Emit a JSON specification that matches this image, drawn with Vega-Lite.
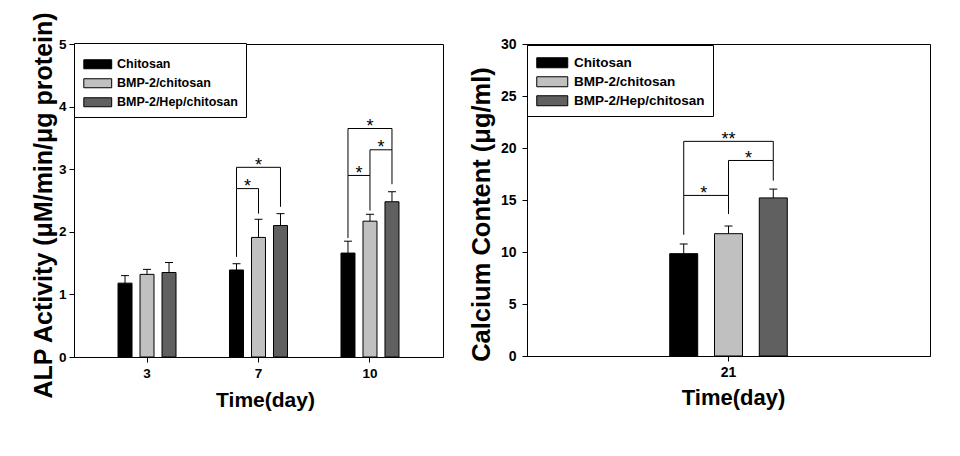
{
  "$schema": "https://vega.github.io/schema/vega-lite/v6.json",
  "padding": {"left": 30, "top": 10, "right": 0, "bottom": 0},
  "bounds": "flush",
  "spacing": 84,
  "background": "#ffffff",
  "config": {
    "font": "Liberation Sans",
    "view": {"stroke": "#000000", "strokeWidth": 1},
    "axis": {
      "domainColor": "#000000", "tickColor": "#000000", "labelColor": "#000000", "titleColor": "#000000",
      "labelFont": "Liberation Sans", "labelFontWeight": "bold", "titleFont": "Liberation Sans", "titleFontWeight": "bold",
      "grid": false, "tickSize": 5, "labelAngle": 0
    },
    "text": {"color": "#000000"}
  },
  "resolve": {"legend": {"color": "independent"}, "scale": {"xOffset": "independent"}},
  "datasets": {
    "alp": [
      {"day": "3", "group": "Chitosan", "mean": 1.18, "upper": 1.30},
      {"day": "3", "group": "BMP-2/chitosan", "mean": 1.32, "upper": 1.40},
      {"day": "3", "group": "BMP-2/Hep/chitosan", "mean": 1.35, "upper": 1.51},
      {"day": "7", "group": "Chitosan", "mean": 1.39, "upper": 1.49},
      {"day": "7", "group": "BMP-2/chitosan", "mean": 1.91, "upper": 2.20},
      {"day": "7", "group": "BMP-2/Hep/chitosan", "mean": 2.10, "upper": 2.29},
      {"day": "10", "group": "Chitosan", "mean": 1.66, "upper": 1.85},
      {"day": "10", "group": "BMP-2/chitosan", "mean": 2.17, "upper": 2.28},
      {"day": "10", "group": "BMP-2/Hep/chitosan", "mean": 2.48, "upper": 2.64}
    ],
    "alpBr": [
      {"bracket": "7a", "day": "7", "group": "Chitosan", "level": 1.60, "seq": 1},
      {"bracket": "7a", "day": "7", "group": "Chitosan", "level": 2.69, "seq": 2},
      {"bracket": "7a", "day": "7", "group": "BMP-2/chitosan", "level": 2.69, "seq": 3},
      {"bracket": "7a", "day": "7", "group": "BMP-2/chitosan", "level": 2.29, "seq": 4},
      {"bracket": "7b", "day": "7", "group": "Chitosan", "level": 2.69, "seq": 1},
      {"bracket": "7b", "day": "7", "group": "Chitosan", "level": 3.03, "seq": 2},
      {"bracket": "7b", "day": "7", "group": "BMP-2/Hep/chitosan", "level": 3.03, "seq": 3},
      {"bracket": "7b", "day": "7", "group": "BMP-2/Hep/chitosan", "level": 2.40, "seq": 4},
      {"bracket": "10a", "day": "10", "group": "Chitosan", "level": 1.90, "seq": 1},
      {"bracket": "10a", "day": "10", "group": "Chitosan", "level": 2.90, "seq": 2},
      {"bracket": "10a", "day": "10", "group": "BMP-2/chitosan", "level": 2.90, "seq": 3},
      {"bracket": "10a", "day": "10", "group": "BMP-2/chitosan", "level": 2.34, "seq": 4},
      {"bracket": "10b", "day": "10", "group": "BMP-2/chitosan", "level": 2.90, "seq": 1},
      {"bracket": "10b", "day": "10", "group": "BMP-2/chitosan", "level": 3.31, "seq": 2},
      {"bracket": "10b", "day": "10", "group": "BMP-2/Hep/chitosan", "level": 3.31, "seq": 3},
      {"bracket": "10b", "day": "10", "group": "BMP-2/Hep/chitosan", "level": 2.76, "seq": 4},
      {"bracket": "10c", "day": "10", "group": "Chitosan", "level": 2.90, "seq": 1},
      {"bracket": "10c", "day": "10", "group": "Chitosan", "level": 3.65, "seq": 2},
      {"bracket": "10c", "day": "10", "group": "BMP-2/Hep/chitosan", "level": 3.65, "seq": 3},
      {"bracket": "10c", "day": "10", "group": "BMP-2/Hep/chitosan", "level": 3.31, "seq": 4}
    ],
    "alpStar": [
      {"day": "7", "group": "Chitosan", "level": 2.69, "star": "*", "kind": "adj"},
      {"day": "7", "group": "BMP-2/chitosan", "level": 3.03, "star": "*", "kind": "wide"},
      {"day": "10", "group": "Chitosan", "level": 2.90, "star": "*", "kind": "adj"},
      {"day": "10", "group": "BMP-2/chitosan", "level": 3.31, "star": "*", "kind": "adj"},
      {"day": "10", "group": "BMP-2/chitosan", "level": 3.65, "star": "*", "kind": "wide"}
    ],
    "ca": [
      {"day": "21", "group": "Chitosan", "mean": 9.84, "upper": 10.77},
      {"day": "21", "group": "BMP-2/chitosan", "mean": 11.76, "upper": 12.5},
      {"day": "21", "group": "BMP-2/Hep/chitosan", "mean": 15.2, "upper": 16.05}
    ],
    "caBr": [
      {"bracket": "a", "day": "21", "group": "Chitosan", "level": 11.66, "seq": 1},
      {"bracket": "a", "day": "21", "group": "Chitosan", "level": 15.44, "seq": 2},
      {"bracket": "a", "day": "21", "group": "BMP-2/chitosan", "level": 15.44, "seq": 3},
      {"bracket": "a", "day": "21", "group": "BMP-2/chitosan", "level": 13.65, "seq": 4},
      {"bracket": "b", "day": "21", "group": "BMP-2/chitosan", "level": 15.44, "seq": 1},
      {"bracket": "b", "day": "21", "group": "BMP-2/chitosan", "level": 18.8, "seq": 2},
      {"bracket": "b", "day": "21", "group": "BMP-2/Hep/chitosan", "level": 18.8, "seq": 3},
      {"bracket": "b", "day": "21", "group": "BMP-2/Hep/chitosan", "level": 16.86, "seq": 4},
      {"bracket": "c", "day": "21", "group": "Chitosan", "level": 15.44, "seq": 1},
      {"bracket": "c", "day": "21", "group": "Chitosan", "level": 20.64, "seq": 2},
      {"bracket": "c", "day": "21", "group": "BMP-2/Hep/chitosan", "level": 20.64, "seq": 3},
      {"bracket": "c", "day": "21", "group": "BMP-2/Hep/chitosan", "level": 18.8, "seq": 4}
    ],
    "caStar": [
      {"day": "21", "group": "Chitosan", "level": 15.44, "star": "*", "kind": "adj"},
      {"day": "21", "group": "BMP-2/chitosan", "level": 18.8, "star": "*", "kind": "adj"},
      {"day": "21", "group": "BMP-2/chitosan", "level": 20.64, "star": "**", "kind": "wide"}
    ]
  },
  "hconcat": [
    {
      "width": 369,
      "height": 313,
      "encoding": {
        "x": {"field": "day", "type": "nominal", "title": "Time(day)",
          "scale": {"domain": ["3", "7", "10"], "paddingInner": 0.408, "paddingOuter": 0.359},
          "axis": {"labelFontSize": 13.5, "titleFontSize": 21, "titleX": 191, "labelPadding": 4, "titlePadding": 10}},
        "xOffset": {"field": "group", "type": "nominal",
          "scale": {"domain": ["Chitosan", "BMP-2/chitosan", "BMP-2/Hep/chitosan"], "paddingInner": 0.364, "paddingOuter": 0.182}}
      },
      "layer": [
        {
          "data": {"name": "alp"},
          "mark": {"type": "bar", "stroke": "#000000", "strokeWidth": 1, "opacity": 1},
          "encoding": {
            "y": {"field": "mean", "type": "quantitative", "title": "ALP Activity (μM/min/μg protein)",
              "scale": {"domain": [0, 5]},
              "axis": {"values": [0, 1, 2, 3, 4, 5], "format": "d", "labelFontSize": 13.5, "labelPadding": 3, "titleFontSize": 25, "titlePadding": 2, "titleY": 161}},
            "color": {"field": "group", "type": "nominal",
              "scale": {"domain": ["Chitosan", "BMP-2/chitosan", "BMP-2/Hep/chitosan"], "range": ["#000000", "#c0c0c0", "#606060"]},
              "legend": {"title": " ", "titleFontSize": 4, "titlePadding": 3, "orient": "none", "legendX": 0, "legendY": -1, "padding": 8,
                "strokeColor": "#000000", "fillColor": "#ffffff", "cornerRadius": 0,
                "symbolType": "M-3.1,-1H3.1V1H-3.1Z", "symbolSize": 81, "symbolStrokeColor": "#000000", "symbolStrokeWidth": 1,
                "symbolOffset": 9.5, "labelOffset": 13, "labelFont": "Liberation Sans", "labelFontSize": 12.5, "labelFontWeight": "bold",
                "labelColor": "#000000", "rowPadding": 5}}
          }
        },
        {
          "data": {"name": "alp"},
          "mark": {"type": "rule", "color": "#000000", "strokeWidth": 1},
          "encoding": {
            "y": {"field": "mean", "type": "quantitative", "title": "ALP Activity (μM/min/μg protein)"},
            "y2": {"field": "upper"}
          }
        },
        {
          "data": {"name": "alp"},
          "mark": {"type": "tick", "color": "#000000", "size": 8, "thickness": 1, "orient": "horizontal", "opacity": 1},
          "encoding": {
            "y": {"field": "upper", "type": "quantitative", "title": "ALP Activity (μM/min/μg protein)"}
          }
        },
        {
          "data": {"name": "alpBr"},
          "mark": {"type": "line", "color": "#000000", "strokeWidth": 1},
          "encoding": {
            "y": {"field": "level", "type": "quantitative", "title": "ALP Activity (μM/min/μg protein)"},
            "detail": {"field": "bracket", "type": "nominal"},
            "order": {"field": "seq", "type": "quantitative"}
          }
        },
        {
          "data": {"name": "alpStar"},
          "transform": [{"filter": "datum.kind == 'adj'"}],
          "mark": {"type": "text", "fontSize": 18, "baseline": "alphabetic", "dx": 11, "dy": 3.5, "color": "#000000"},
          "encoding": {
            "y": {"field": "level", "type": "quantitative", "title": "ALP Activity (μM/min/μg protein)"},
            "text": {"field": "star"}
          }
        },
        {
          "data": {"name": "alpStar"},
          "transform": [{"filter": "datum.kind == 'wide'"}],
          "mark": {"type": "text", "fontSize": 18, "baseline": "alphabetic", "dx": 0, "dy": 3.5, "color": "#000000"},
          "encoding": {
            "y": {"field": "level", "type": "quantitative", "title": "ALP Activity (μM/min/μg protein)"},
            "text": {"field": "star"}
          }
        }
      ]
    },
    {
      "width": 403,
      "height": 312,
      "encoding": {
        "x": {"field": "day", "type": "nominal", "title": "Time(day)",
          "scale": {"domain": ["21"], "paddingInner": 0, "paddingOuter": 1.179},
          "axis": {"labelFontSize": 14, "titleFontSize": 22, "titleX": 206, "labelPadding": 4, "titlePadding": 8}},
        "xOffset": {"field": "group", "type": "nominal",
          "scale": {"domain": ["Chitosan", "BMP-2/chitosan", "BMP-2/Hep/chitosan"], "paddingInner": 0.375, "paddingOuter": 0.1875}}
      },
      "layer": [
        {
          "data": {"name": "ca"},
          "mark": {"type": "bar", "stroke": "#000000", "strokeWidth": 1, "opacity": 1},
          "encoding": {
            "y": {"field": "mean", "type": "quantitative", "title": "Calcium Content (μg/ml)",
              "scale": {"domain": [0, 30]},
              "axis": {"values": [0, 5, 10, 15, 20, 25, 30], "format": "d", "labelFontSize": 14, "labelPadding": 6, "titleFontSize": 25.5, "titlePadding": 6, "titleY": 170}},
            "color": {"field": "group", "type": "nominal",
              "scale": {"domain": ["Chitosan", "BMP-2/chitosan", "BMP-2/Hep/chitosan"], "range": ["#000000", "#c0c0c0", "#606060"]},
              "legend": {"title": " ", "titleFontSize": 1, "titlePadding": 2, "orient": "none", "legendX": 0, "legendY": 1, "padding": 8,
                "strokeColor": "#000000", "fillColor": "#ffffff", "cornerRadius": 0,
                "symbolType": "M-3.1,-1H3.1V1H-3.1Z", "symbolSize": 100, "symbolStrokeColor": "#000000", "symbolStrokeWidth": 1,
                "symbolOffset": 10.5, "labelOffset": 15, "labelFont": "Liberation Sans", "labelFontSize": 13.5, "labelFontWeight": "bold",
                "labelColor": "#000000", "rowPadding": 4}}
          }
        },
        {
          "data": {"name": "ca"},
          "mark": {"type": "rule", "color": "#000000", "strokeWidth": 1},
          "encoding": {
            "y": {"field": "mean", "type": "quantitative", "title": "Calcium Content (μg/ml)"},
            "y2": {"field": "upper"}
          }
        },
        {
          "data": {"name": "ca"},
          "mark": {"type": "tick", "color": "#000000", "size": 8, "thickness": 1, "orient": "horizontal", "opacity": 1},
          "encoding": {
            "y": {"field": "upper", "type": "quantitative", "title": "Calcium Content (μg/ml)"}
          }
        },
        {
          "data": {"name": "caBr"},
          "mark": {"type": "line", "color": "#000000", "strokeWidth": 1},
          "encoding": {
            "y": {"field": "level", "type": "quantitative", "title": "Calcium Content (μg/ml)"},
            "detail": {"field": "bracket", "type": "nominal"},
            "order": {"field": "seq", "type": "quantitative"}
          }
        },
        {
          "data": {"name": "caStar"},
          "transform": [{"filter": "datum.kind == 'adj'"}],
          "mark": {"type": "text", "fontSize": 18, "baseline": "alphabetic", "dx": 20, "dy": 3.5, "color": "#000000"},
          "encoding": {
            "y": {"field": "level", "type": "quantitative", "title": "Calcium Content (μg/ml)"},
            "text": {"field": "star"}
          }
        },
        {
          "data": {"name": "caStar"},
          "transform": [{"filter": "datum.kind == 'wide'"}],
          "mark": {"type": "text", "fontSize": 18, "baseline": "alphabetic", "dx": 0, "dy": 3.5, "color": "#000000"},
          "encoding": {
            "y": {"field": "level", "type": "quantitative", "title": "Calcium Content (μg/ml)"},
            "text": {"field": "star"}
          }
        }
      ]
    }
  ]
}
